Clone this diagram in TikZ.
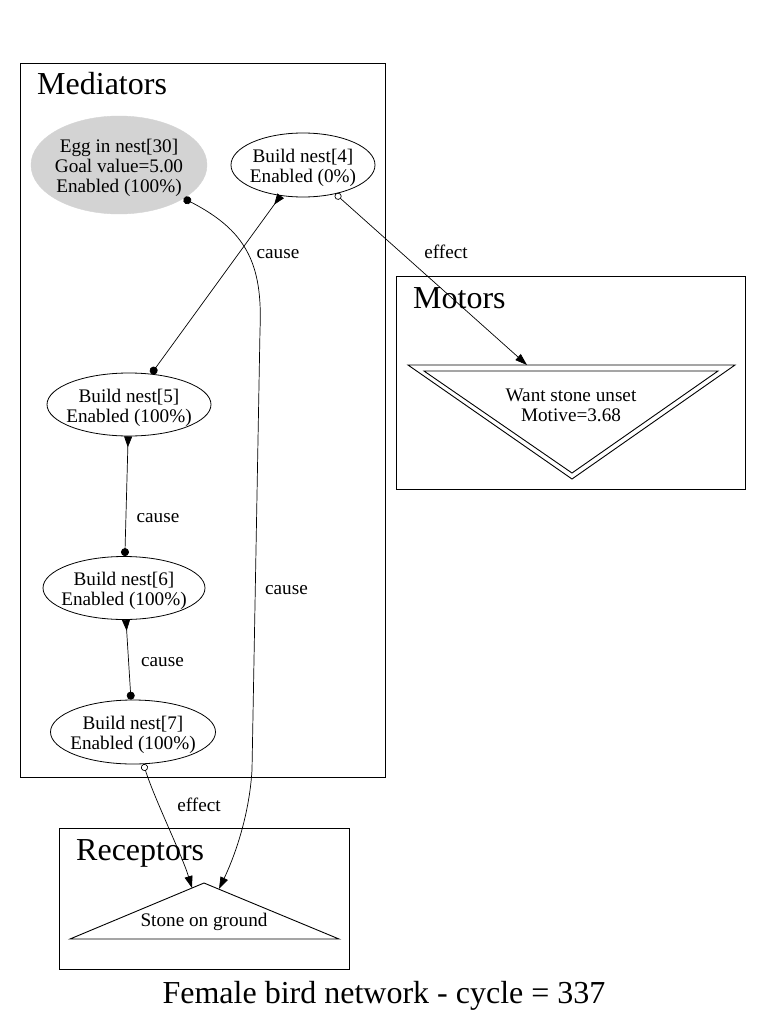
\documentclass[tikz,border=0pt]{standalone}
\usepackage{fontspec}
\setmainfont{Liberation Serif}
\usetikzlibrary{shapes.geometric,arrows.meta,positioning}
\definecolor{goalgray}{HTML}{D3D3D3}

\tikzset{
  nodetext/.style={font=\fontsize{19.2}{19.8}\selectfont, align=center},
  edgetext/.style={font=\fontsize{19.2}{19.8}\selectfont, anchor=base, inner sep=0pt},
  clustertext/.style={font=\fontsize{32}{38}\selectfont, anchor=base west, inner sep=0pt},
  cluster/.style={draw, line width=0.9pt},
  shapeline/.style={draw, line width=0.9pt, line join=miter},
  behaviour/.style={ellipse, draw, line width=0.8pt, inner sep=0pt},
  goal/.style={ellipse, draw=goalgray, fill=goalgray, inner sep=0pt},
  causelink/.style={draw, line width=0.7pt, arrows={Circle[length=8pt]-Triangle[reversed,length=11pt,width=8pt]}},
  causefar/.style={draw, line width=0.7pt, arrows={Circle[length=8pt]-Triangle[length=12pt,width=8pt]}},
  effectlink/.style={draw, line width=0.7pt, arrows={Circle[open,length=7pt]-Triangle[length=12pt,width=8pt]}}
}

\begin{document}
\begin{tikzpicture}[x=1pt,y=-1pt]
\useasboundingbox (0,0) rectangle (764,1033);

% clusters
\draw[cluster] (20,63) rectangle (385,777);
\node[clustertext] (medtitle) at (37,95) {Mediators};
\draw[cluster] (396,276) rectangle (745,489);
\node[clustertext] (mottitle) at (413,308) {Motors};
\draw[cluster] (59,828) rectangle (349,969);
\node[clustertext] (rectitle) at (76,860) {Receptors};

% mediators
\node[goal, minimum width=176pt, minimum height=98pt,
  label={[nodetext,yshift=-3pt]center:{Egg in nest[30]\\Goal value=5.00\\Enabled (100\%)}}] (egg) at (119,165) {};
\node[behaviour, minimum width=144pt, minimum height=64pt,
  label={[nodetext,yshift=-3pt]center:{Build nest[4]\\Enabled (0\%)}}] (n4) at (303,165) {};
\node[behaviour, minimum width=164pt, minimum height=63pt,
  label={[nodetext,yshift=-3pt]center:{Build nest[5]\\Enabled (100\%)}}] (n5) at (129,404.5) {};
\node[behaviour, minimum width=162pt, minimum height=63pt,
  label={[nodetext,yshift=-3pt]center:{Build nest[6]\\Enabled (100\%)}}] (n6) at (124,588) {};
\node[behaviour, minimum width=165pt, minimum height=64pt,
  label={[nodetext,yshift=-3pt]center:{Build nest[7]\\Enabled (100\%)}}] (n7) at (133,732) {};

% motors
\node[nodetext] (want) at (571,405) {Want stone unset\\Motive=3.68};
\draw[shapeline] (408,365) -- (735,365) -- (572,479) -- cycle;
\draw[shapeline] (424,371) -- (718,371) -- (572,473) -- cycle;
\coordinate (want-in) at (527,365);

% receptors
\node[nodetext] (stone) at (204,922) {Stone on ground};
\draw[shapeline] (70,939) -- (204,883) -- (339,939) -- cycle;
\coordinate (stone-l) at (192,888);
\coordinate (stone-r) at (219,889);

% links
\draw[causelink] (n5) -- (n4);
\draw[causelink] (n6) -- (n5);
\draw[causelink] (n7) -- (n6);
\draw[causefar] (egg) .. controls (245,230) and (263,262) .. (260,330)
  -- (252,770) .. controls (249,820) and (232,862) .. (stone-r);
\draw[effectlink] (n7) .. controls (155,800) and (182,855) .. (stone-l);
\draw[effectlink] (n4) -- (want-in);

% link labels
\node[edgetext] (l-n4n5) at (278,258.5) {cause};
\node[edgetext] (l-n5n6) at (158,522.5) {cause};
\node[edgetext] (l-n6n7) at (162.5,666.5) {cause};
\node[edgetext] (l-eggst) at (286.5,594) {cause};
\node[edgetext] (l-n7st) at (199,811) {effect};
\node[edgetext] (l-n4ws) at (446,258.5) {effect};

\node[font=\fontsize{32}{38}\selectfont, anchor=base] (caption) at (384,1003) {Female bird network - cycle = 337};
\end{tikzpicture}
\end{document}
